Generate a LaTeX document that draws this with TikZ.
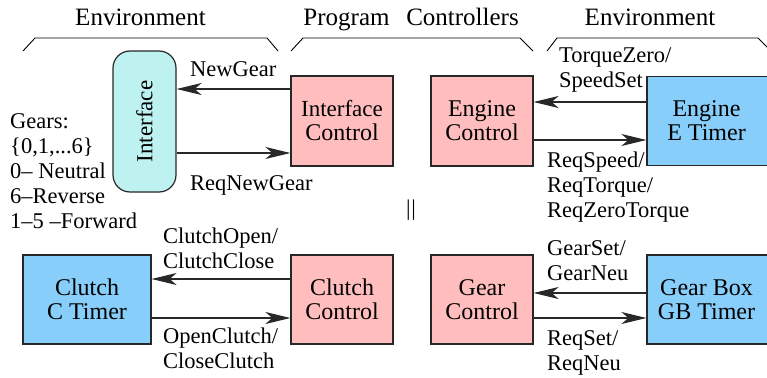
\documentclass[tikz,border=0pt]{standalone}
\usepackage{fontspec}
\setmainfont{Liberation Serif}
\usepackage{graphicx}
\usetikzlibrary{arrows.meta}
\definecolor{boxpink}{RGB}{255,189,189}
\definecolor{boxblue}{RGB}{135,206,250}
\definecolor{boxcyan}{RGB}{190,242,240}
\definecolor{edgecol}{RGB}{40,40,40}
\begin{document}
\begin{tikzpicture}[x=1pt,y=-1pt,
  boxbase/.style={draw=edgecol, line width=1.2pt, inner sep=0pt, align=center,
    font=\fontsize{24}{24}\selectfont},
  ctrl/.style={boxbase, fill=boxpink, minimum width=102pt, minimum height=90pt},
  timer/.style={boxbase, fill=boxblue, minimum height=89pt},
  iface/.style={boxbase, fill=boxcyan, rounded corners=17pt, minimum width=63pt, minimum height=141pt},
  head/.style={font=\fontsize{25}{25}\selectfont, anchor=base, inner sep=0pt},
  lbl/.style={font=\fontsize{22.5}{25}\selectfont, align=left, anchor=base west, inner sep=0pt},
  arr/.style={draw=edgecol, line width=1.1pt, -{Stealth[length=25pt,width=12pt,inset=7pt]}},
  bracket/.style={draw=black, line width=0.9pt}
]
\useasboundingbox (0,0) rectangle (767,377);

% headings
\node[head] (env1) at (140.5,26) {Environment};
\node[head] (prog) at (346.5,26) {Program};
\node[head] (ctrls) at (462.5,26) {Controllers};
\node[head] (env2) at (650,26) {Environment};

% brackets
\draw[bracket] (23,51) -- (35,38) -- (267,38) -- (278,51);
\draw[bracket] (291,51) -- (303,38) -- (520,38) -- (533,51);
\draw[bracket] (547,51) -- (557,38) -- (758,38) -- (770,50);

% boxes
\node[iface] (ifc) at (144.5,121.5) {\rotatebox{90}{\fontsize{23}{23}\selectfont Interface}};
\node[ctrl] (ic) at (342,121) {\fontsize{23}{23}\selectfont Interface\\Control};
\node[ctrl] (ec) at (482,121) {Engine\\Control};
\node[timer, minimum width=130pt] (et) at (712,121) {\hspace*{-11pt}Engine\\\hspace*{-11pt}E Timer};
\node[timer, minimum width=128pt] (ct) at (87,299.5) {Clutch\\C Timer};
\node[ctrl, minimum height=89pt] (cc) at (342,299.5) {Clutch\\Control};
\node[ctrl, minimum height=89pt] (gc) at (482,299.5) {Gear\\Control};
\node[timer, minimum width=130pt] (gb) at (712,299.5) {\hspace*{-11pt}Gear Box\\\hspace*{-11pt}GB Timer};

% arrows
\draw[arr] ([yshift=32pt]ic.west) -- ([yshift=32pt]ic.west -| ifc.east);
\draw[arr] ([yshift=-31.5pt]ifc.east) -- ([yshift=-31.5pt]ifc.east -| ic.west);
\draw[arr] ([yshift=19pt]et.west) -- ([yshift=19pt]ec.east);
\draw[arr] ([yshift=-19pt]ec.east) -- ([yshift=-19pt]et.west);
\draw[arr] ([yshift=20.5pt]cc.west) -- ([yshift=20.5pt]cc.west -| ct.east);
\draw[arr] ([yshift=-18.5pt]ct.east) -- ([yshift=-18.5pt]ct.east -| cc.west);
\draw[arr] ([yshift=6.5pt]gb.west) -- ([yshift=6.5pt]gc.east);
\draw[arr] ([yshift=-18.5pt]gc.east) -- ([yshift=-18.5pt]gb.west);

% labels (base anchor = baseline of the last line)
\node[lbl] (lng) at (190,77) {NewGear};
\node[lbl] (lrng) at (190,190) {ReqNewGear};
\node[lbl] (ltz) at (559,88) {TorqueZero/\\SpeedSet};
\node[lbl] (lrs) at (547,217) {ReqSpeed/\\ReqTorque/\\ReqZeroTorque};
\node[lbl] (lco) at (163,268) {ClutchOpen/\\ClutchClose};
\node[lbl] (loc) at (163,368) {OpenClutch/\\CloseClutch};
\node[lbl] (lgs) at (547,280) {GearSet/\\GearNeu};
\node[lbl] (lrq) at (547,370) {ReqSet/\\ReqNeu};
\node[lbl] (gears) at (10,228) {Gears:\\\{0,1,...6\}\\0-- Neutral\\6--Reverse\\1--5 --Forward};
\node[font=\fontsize{22.5}{25}\selectfont, inner sep=0pt] (par) at (411,210) {|\kern1pt|};
\end{tikzpicture}
\end{document}
